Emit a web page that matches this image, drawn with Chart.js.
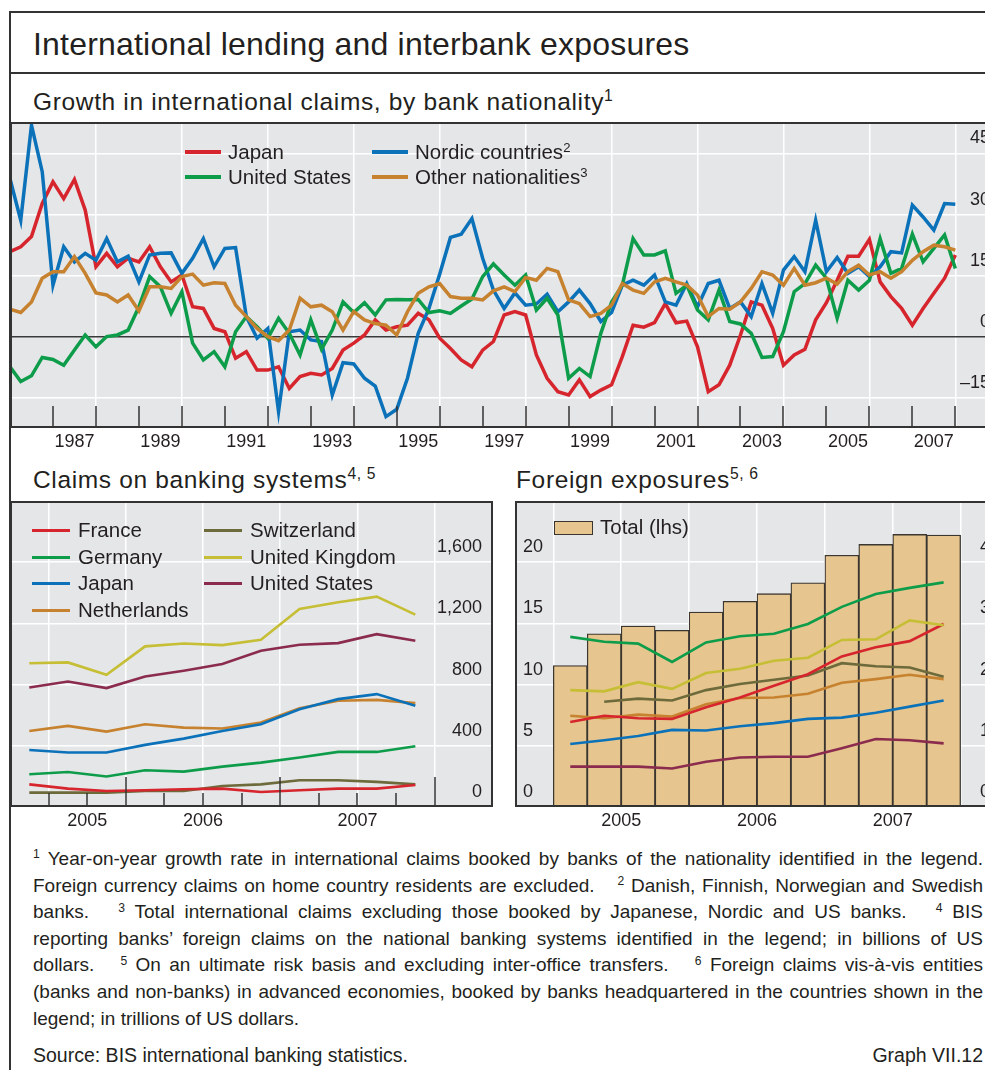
<!DOCTYPE html>
<html>
<head>
<meta charset="utf-8">
<script src="https://cdn.jsdelivr.net/npm/chart.js@4.4.1/dist/chart.umd.min.js"></script>
<style>
  html, body { margin: 0; padding: 0; background: #fff; }
  body {
    width: 985px; height: 1070px; overflow: hidden; position: relative;
    font-family: "Liberation Sans", Arial, Helvetica, sans-serif; color: #231f20;
  }
  canvas { position: absolute; z-index: 1; }
  .rule { position: absolute; background: #333; z-index: 5; }
  .txt { position: absolute; white-space: nowrap; z-index: 3; }
  .title { left: 33px; top: 26px; font-size: 32px; line-height: 36px; letter-spacing: 0.2px; }
  .sub { font-size: 24.5px; line-height: 28px; letter-spacing: 0.65px; }
  sup { font-size: 0.64em; vertical-align: 0; position: relative; top: -0.55em; line-height: 0; }
  .leg { position: absolute; z-index: 3; font-size: 20.5px; line-height: 24px; white-space: nowrap; }
  .sw { position: absolute; z-index: 3; }
  .note { position: absolute; left: 33px; width: 950px; font-size: 19px; line-height: 26.6px; z-index: 3; }
  .note div { text-align: justify; text-align-last: justify; white-space: nowrap; }
  .note div.last { text-align-last: left; }
</style>
</head>
<body>
<div class="rule" style="left:9px; top:11px; width:2px; height:1060px;"></div>
<div class="rule" style="left:9px; top:11px; width:980px; height:2px;"></div>
<div class="rule" style="left:9px; top:72px; width:980px; height:2px;"></div>

<div class="txt title">International lending and interbank exposures</div>
<div class="txt sub" style="left:33px; top:88px;">Growth in international claims, by bank nationality<sup>1</sup></div>
<div class="txt sub" style="left:33px; top:466px;">Claims on banking systems<sup>4, 5</sup></div>
<div class="txt sub" style="left:516px; top:466px;">Foreign exposures<sup>5, 6</sup></div>

<canvas id="growth" width="980" height="336" style="left:10px; top:122px; width:980px; height:336px;"></canvas>
<canvas id="banks" width="483" height="336" style="left:10px; top:501px; width:483px; height:336px;"></canvas>
<canvas id="expo" width="485" height="336" style="left:515px; top:501px; width:485px; height:336px;"></canvas>

<div id="legend-growth"></div>
<div id="legend-banks"></div>
<div id="legend-expo"></div>

<div class="note" style="top:846px;">
  <div><sup>1</sup> Year-on-year growth rate in international claims booked by banks of the nationality identified in the legend.</div>
  <div>Foreign currency claims on home country residents are excluded. &ensp; <sup>2</sup> Danish, Finnish, Norwegian and Swedish</div>
  <div>banks. &ensp; <sup>3</sup> Total international claims excluding those booked by Japanese, Nordic and US banks. &ensp; <sup>4</sup> BIS</div>
  <div>reporting banks’ foreign claims on the national banking systems identified in the legend; in billions of US</div>
  <div>dollars. &ensp; <sup>5</sup> On an ultimate risk basis and excluding inter-office transfers. &ensp; <sup>6</sup> Foreign claims vis-à-vis entities</div>
  <div>(banks and non-banks) in advanced economies, booked by banks headquartered in the countries shown in the</div>
  <div class="last">legend; in trillions of US dollars.</div>
</div>
<div class="txt" style="left:33px; top:1042px; font-size:19.5px; line-height:26px;">Source: BIS international banking statistics.</div>
<div class="txt" style="right:2px; top:1042px; font-size:19.5px; line-height:26px;">Graph VII.12</div>

<script>
Chart.defaults.font.family = "'Liberation Sans', Arial, Helvetica, sans-serif";
Chart.defaults.font.size = 18;
Chart.defaults.color = "#231f20";
Chart.defaults.animation = false;

const PLOT_BG = "#e5e6e8";
const FRAME = "#333333";

// ---- Growth in international claims, quarterly, % year on year ----
const growthFirstYear = 1986; // first observation sits on the left edge
const growthYearLabels = ["1987", "1989", "1991", "1993", "1995", "1997", "1999", "2001", "2003", "2005", "2007"];
const growthTicks = [-15, 0, 15, 30, 45];

const japanGrowth = [
  20.9, 22.1, 24.6, 32.7, 38.0, 33.9, 38.6, 31.1, 17.2, 20.5,
  17.2, 19.3, 18.4, 22.1, 17.2, 13.5, 15.2, 7.4, 7.0, 2.1,
  1.3, -5.2, -3.6, -8.1, -8.1, -7.3, -12.6, -9.7, -8.9, -9.3,
  -7.7, -3.2, -1.5, 0.5, 4.2, 1.7, 2.5, 2.9, 5.8, 4.2,
  -0.3, -2.8, -5.6, -7.3, -3.2, -1.1, 5.4, 6.2, 5.4, -4.4,
  -10.1, -13.4, -14.2, -10.5, -14.6, -13.0, -11.7, -4.8, 2.9, 2.4,
  3.5, 8.2, 3.5, 3.9, -2.4, -13.4, -11.7, -6.9, 0.5, 8.6,
  7.8, 2.1, -6.9, -4.4, -3.0, 4.2, 8.4, 13.9, 19.8, 19.8,
  23.9, 13.5, 9.9, 7.0, 2.9, 7.0, 10.7, 14.4, 20.1
];
const usGrowth = [
  -7.3, -10.9, -9.5, -5.0, -5.5, -6.9, -3.2, 0.5, -2.4, 0.1,
  0.5, 1.7, 7.4, 14.8, 12.3, 5.8, 11.1, -1.5, -5.6, -3.6,
  -7.3, 1.3, 5.0, 2.5, -0.3, 4.6, 0.9, -4.4, 4.2, -3.0,
  1.7, 8.6, 6.0, 8.4, 5.4, 9.1, 9.2, 9.1, 9.2, 6.0,
  6.4, 5.8, 7.6, 9.3, 14.8, 17.9, 15.2, 12.7, 15.2, 6.6,
  9.5, 5.4, -10.1, -7.7, -9.7, 0.9, 8.6, 12.7, 24.1, 20.1,
  20.1, 21.1, 10.7, 12.7, 6.6, 4.2, 11.5, 3.8, 3.2, 0.9,
  -5.0, -4.8, 1.3, 11.1, 13.1, 17.6, 14.4, 4.6, 13.9, 11.5,
  13.9, 24.1, 15.6, 16.8, 25.2, 18.4, 21.7, 25.0, 16.8
];
const nordicGrowth = [
  38.8, 28.6, 51.9, 40.5, 12.7, 22.1, 18.4, 20.5, 18.8, 24.1,
  18.4, 19.8, 13.5, 20.1, 20.5, 20.6, 15.6, 19.3, 24.1, 17.2,
  21.7, 21.9, 5.0, -0.3, 2.1, -18.3, 1.3, 1.7, -0.7, -1.1,
  -14.2, -6.3, -6.6, -10.1, -12.0, -19.5, -17.7, -10.1, 0.9, 7.0,
  15.4, 24.4, 25.2, 29.0, 19.3, 11.5, 7.0, 10.8, 7.8, 8.1,
  10.5, 6.2, 8.6, 11.5, 8.2, 3.8, 6.0, 12.7, 13.9, 12.7,
  15.2, 8.6, 7.8, 13.1, 7.4, 13.1, 13.9, 7.0, 8.6, 5.0,
  13.1, 5.8, 16.4, 19.7, 16.0, 28.6, 16.0, 19.5, 15.6, 17.2,
  14.8, 17.2, 20.9, 20.6, 32.3, 29.4, 26.2, 32.7, 32.5
];
const otherGrowth = [
  6.8, 6.0, 8.6, 14.4, 16.0, 16.0, 19.7, 15.6, 10.8, 10.3,
  8.6, 10.3, 6.4, 12.3, 12.3, 11.9, 14.8, 15.4, 12.7, 13.3,
  13.1, 7.8, 5.0, 2.1, 0.1, -0.9, 1.7, 9.5, 7.4, 7.8,
  6.2, 1.7, 6.2, 4.2, 3.3, 2.9, 0.5, 6.2, 10.7, 12.3,
  13.1, 9.9, 9.5, 9.5, 9.1, 11.3, 12.3, 11.1, 14.6, 13.9,
  16.8, 16.0, 9.1, 8.2, 5.0, 5.8, 7.8, 13.1, 11.5, 10.7,
  13.5, 14.4, 13.5, 12.7, 10.3, 5.0, 7.0, 6.8, 8.6, 11.9,
  16.0, 15.2, 12.7, 16.8, 12.7, 13.3, 14.4, 13.0, 16.0, 17.6,
  15.2, 16.0, 14.4, 16.0, 18.8, 20.9, 22.5, 22.1, 21.3
];

// ---- Claims on banking systems, USD bn ----
const bankQuarters = ["2005Q2", "2005Q3", "2005Q4", "2006Q1", "2006Q2", "2006Q3", "2006Q4", "2007Q1", "2007Q2", "2007Q3", "2007Q4"];
const bankYearLabels = ["2005", "2006", "2007"];
const bankTicks = [0, 400, 800, 1200, 1600];
const franceClaims = [148, 120, 105, 109, 116, 120, 98, 109, 120, 120, 144];
const germanyClaims = [214, 229, 199, 240, 231, 264, 290, 323, 360, 360, 397];
const japanClaims = [373, 356, 356, 406, 447, 497, 541, 639, 705, 738, 661];
const netherlandsClaims = [497, 530, 493, 541, 519, 513, 552, 646, 694, 700, 679];
const switzerlandClaims = [94, 94, 94, 105, 105, 137, 148, 175, 175, 164, 148];
const ukClaims = [940, 945, 864, 1050, 1069, 1058, 1093, 1294, 1338, 1375, 1257];
const usClaims = [781, 820, 777, 853, 891, 934, 1021, 1060, 1071, 1130, 1087];

// ---- Foreign exposures, USD trn ----
const expoQuarters = ["2005Q1", "2005Q2", "2005Q3", "2005Q4", "2006Q1", "2006Q2", "2006Q3", "2006Q4", "2007Q1", "2007Q2", "2007Q3", "2007Q4"];
const expoYearLabels = ["2005", "2006", "2007"];
const expoLeftTicks = [0, 5, 10, 15, 20];
const expoRightTicks = [0, 1, 2, 3, 4];
const totalExpo = [11.56, 14.15, 14.78, 14.43, 15.93, 16.80, 17.43, 18.31, 20.57, 21.45, 22.27, 22.21];
const germanyExpo = [2.78, 2.70, 2.67, 2.37, 2.69, 2.79, 2.83, 2.99, 3.27, 3.48, 3.58, 3.67];
const ukExpo = [1.91, 1.89, 2.04, 1.93, 2.19, 2.26, 2.39, 2.44, 2.73, 2.74, 3.05, 2.97];
const franceExpo = [1.39, 1.49, 1.45, 1.44, 1.63, 1.79, 1.98, 2.17, 2.46, 2.61, 2.71, 2.99];
const netherlandsExpo = [1.49, 1.45, 1.51, 1.48, 1.68, 1.78, 1.79, 1.85, 2.03, 2.09, 2.16, 2.09];
const switzerlandExpo = [null, 1.72, 1.77, 1.74, 1.91, 2.01, 2.08, 2.15, 2.35, 2.30, 2.28, 2.13];
const japanExpo = [1.03, 1.09, 1.16, 1.26, 1.25, 1.32, 1.37, 1.44, 1.46, 1.54, 1.64, 1.74];
const usExpo = [0.66, 0.66, 0.66, 0.63, 0.74, 0.81, 0.82, 0.82, 0.96, 1.11, 1.09, 1.04];

const COLORS = {
  red: "#d6252d",
  green: "#0d9d4a",
  blue: "#0b72ba",
  orange: "#c7822f",
  olive: "#6d6a3b",
  yellow: "#c6bf35",
  maroon: "#8b2c4e",
  tan: "#e6c58e",
};

// quarter label -> middle of the quarter on a year axis
const quarterMid = (label) => {
  const [y, q] = label.split("Q");
  return Number(y) + (Number(q) - 1) / 4 + 0.125;
};

const zeroPad = (scale) => {
  scale.paddingLeft = 0;
  scale.paddingRight = 0;
  scale.paddingTop = 0;
  scale.paddingBottom = 0;
};

const fixedTicks = (values) => (scale) => {
  scale.ticks = values.map((value) => ({ value }));
};

const stepTicks = (from, to, step) => (scale) => {
  const ticks = [];
  for (let v = from; v <= to + 1e-9; v += step) ticks.push({ value: Math.round(v * 1000) / 1000 });
  scale.ticks = ticks;
};

const plotFrame = {
  id: "plotFrame",
  beforeDraw(chart) {
    const { ctx, chartArea: a } = chart;
    ctx.save();
    ctx.fillStyle = PLOT_BG;
    ctx.fillRect(a.left, a.top, a.width, a.height);
    ctx.restore();
  },
  afterDraw(chart) {
    const { ctx, chartArea: a } = chart;
    ctx.save();
    ctx.strokeStyle = FRAME;
    ctx.lineWidth = 2;
    ctx.strokeRect(a.left + 1, a.top + 1, a.width - 2, a.height - 2);
    ctx.restore();
  },
};

// short tick marks standing up from the bottom axis
const innerTicks = (from, to, step, lengthOf) => ({
  id: "innerTicks",
  afterDatasetsDraw(chart) {
    const { ctx, chartArea: a, scales } = chart;
    ctx.save();
    ctx.strokeStyle = FRAME;
    ctx.lineWidth = 1.5;
    for (let v = from; v <= to + 1e-9; v += step) {
      const x = Math.round(scales.x.getPixelForValue(v));
      ctx.beginPath();
      ctx.moveTo(x, a.bottom);
      ctx.lineTo(x, a.bottom - lengthOf(v));
      ctx.stroke();
    }
    ctx.restore();
  },
});

const lineSet = (label, xs, values, color, width, axis) => ({
  type: "line",
  label,
  data: values.map((y, i) => ({ x: xs[i], y })),
  borderColor: color,
  borderWidth: width,
  pointRadius: 0,
  tension: 0,
  spanGaps: false,
  yAxisID: axis || "y",
  order: 0,
});

const baseOptions = () => ({
  responsive: false,
  maintainAspectRatio: false,
  layout: { padding: 0 },
  plugins: { legend: { display: false }, tooltip: { enabled: false } },
});

const dash = (v) => String(v).replace("-", "\u2013");

// ---------- top chart ----------
const growthX = japanGrowth.map((_, i) => growthFirstYear + i / 4);

new Chart(document.getElementById("growth"), {
  type: "line",
  data: {
    datasets: [
      lineSet("Other nationalities", growthX, otherGrowth, COLORS.orange, 3.5),
      lineSet("United States", growthX, usGrowth, COLORS.green, 3.5),
      lineSet("Nordic countries", growthX, nordicGrowth, COLORS.blue, 3.5),
      lineSet("Japan", growthX, japanGrowth, COLORS.red, 3.5),
    ],
  },
  options: {
    ...baseOptions(),
    scales: {
      x: {
        type: "linear",
        min: 1986,
        max: 2008.807,
        afterBuildTicks: stepTicks(1986, 2008.5, 0.5),
        ticks: {
          autoSkip: false,
          maxRotation: 0,
          padding: 3,
          callback: (v) => {
            const yr = String(Math.floor(v));
            return v % 1 === 0.5 && growthYearLabels.includes(yr) ? yr : "";
          },
        },
        grid: {
          drawTicks: false,
          lineWidth: 1.5,
          color: (c) => (c.tick && c.tick.value % 2 === 0 ? "#ffffff" : "rgba(0,0,0,0)"),
        },
        border: { display: false },
        afterFit: (s) => {
          s.height = 30;
          zeroPad(s);
        },
      },
      y: {
        position: "right",
        min: -22.29,
        max: 52.67,
        afterBuildTicks: fixedTicks(growthTicks),
        ticks: { mirror: true, padding: 0, labelOffset: -15, callback: dash },
        grid: {
          drawTicks: false,
          lineWidth: 1.5,
          color: (c) => (c.tick && c.tick.value === 0 ? "#3a3a3a" : "#ffffff"),
        },
        border: { display: false },
        afterFit: (s) => {
          s.width = 0;
          zeroPad(s);
        },
      },
    },
  },
  plugins: [plotFrame, innerTicks(1987, 2008, 1, () => 22)],
});

// ---------- claims on banking systems ----------
const bankX = bankQuarters.map(quarterMid);
const bankLabelAt = { 2005.75: bankYearLabels[0], 2006.5: bankYearLabels[1], 2007.5: bankYearLabels[2] };

new Chart(document.getElementById("banks"), {
  type: "line",
  data: {
    datasets: [
      lineSet("France", bankX, franceClaims, COLORS.red, 2.6),
      lineSet("Switzerland", bankX, switzerlandClaims, COLORS.olive, 2.6),
      lineSet("Germany", bankX, germanyClaims, COLORS.green, 2.6),
      lineSet("Japan", bankX, japanClaims, COLORS.blue, 2.6),
      lineSet("Netherlands", bankX, netherlandsClaims, COLORS.orange, 2.6),
      lineSet("United States", bankX, usClaims, COLORS.maroon, 2.6),
      lineSet("United Kingdom", bankX, ukClaims, COLORS.yellow, 2.6),
    ],
  },
  options: {
    ...baseOptions(),
    scales: {
      x: {
        type: "linear",
        min: 2005.25,
        max: 2008.378,
        afterBuildTicks: stepTicks(2005.5, 2008, 0.25),
        ticks: {
          autoSkip: false,
          maxRotation: 0,
          padding: 3,
          callback: (v) => bankLabelAt[v] || "",
        },
        grid: {
          drawTicks: false,
          lineWidth: 1.5,
          color: (c) => (c.tick && (c.tick.value * 2) % 1 === 0 ? "#ffffff" : "rgba(0,0,0,0)"),
        },
        border: { display: false },
        afterFit: (s) => {
          s.height = 30;
          zeroPad(s);
        },
      },
      y: {
        position: "right",
        min: 0,
        max: 2000,
        afterBuildTicks: fixedTicks(bankTicks),
        ticks: {
          mirror: true,
          padding: -11,
          labelOffset: -15,
          callback: (v) => v.toLocaleString("en-US"),
        },
        grid: { drawTicks: false, lineWidth: 1.5, color: "#ffffff" },
        border: { display: false },
        afterFit: (s) => {
          s.width = 0;
          zeroPad(s);
        },
      },
    },
  },
  plugins: [plotFrame, innerTicks(2005.5, 2008, 0.25, (v) => (v % 1 === 0 ? 30 : 14))],
});

// ---------- foreign exposures ----------
const expoX = expoQuarters.map(quarterMid);
const expoLabelAt = { 2005.5: expoYearLabels[0], 2006.5: expoYearLabels[1], 2007.5: expoYearLabels[2] };

new Chart(document.getElementById("expo"), {
  data: {
    datasets: [
      lineSet("Germany", expoX, germanyExpo, COLORS.green, 2.6, "y2"),
      lineSet("United Kingdom", expoX, ukExpo, COLORS.yellow, 2.6, "y2"),
      lineSet("France", expoX, franceExpo, COLORS.red, 2.6, "y2"),
      lineSet("Switzerland", expoX, switzerlandExpo, COLORS.olive, 2.6, "y2"),
      lineSet("Netherlands", expoX, netherlandsExpo, COLORS.orange, 2.6, "y2"),
      lineSet("Japan", expoX, japanExpo, COLORS.blue, 2.6, "y2"),
      lineSet("United States", expoX, usExpo, COLORS.maroon, 2.6, "y2"),
      {
        type: "bar",
        label: "Total (lhs)",
        data: totalExpo.map((y, i) => ({ x: expoX[i], y })),
        backgroundColor: COLORS.tan,
        borderColor: "#3b3630",
        borderWidth: 1.3,
        barPercentage: 1,
        categoryPercentage: 1,
        yAxisID: "y",
        order: 1,
      },
    ],
  },
  options: {
    ...baseOptions(),
    scales: {
      x: {
        type: "linear",
        offset: false,
        min: 2004.718,
        max: 2008.29,
        afterBuildTicks: stepTicks(2005, 2008, 0.5),
        ticks: {
          autoSkip: false,
          maxRotation: 0,
          padding: 3,
          callback: (v) => expoLabelAt[v] || "",
        },
        grid: { offset: false, drawTicks: false, lineWidth: 1.5, color: "#ffffff" },
        border: { display: false },
        afterFit: (s) => {
          s.height = 30;
          zeroPad(s);
        },
      },
      y: {
        position: "left",
        min: 0,
        max: 25,
        afterBuildTicks: fixedTicks(expoLeftTicks),
        ticks: { mirror: true, padding: 8, labelOffset: -15 },
        grid: { drawTicks: false, lineWidth: 1.5, color: "#ffffff" },
        border: { display: false },
        afterFit: (s) => {
          s.width = 0;
          zeroPad(s);
        },
      },
      y2: {
        position: "right",
        min: 0,
        max: 5,
        afterBuildTicks: fixedTicks(expoRightTicks),
        ticks: { mirror: true, padding: -10, labelOffset: -15 },
        grid: { display: false, drawTicks: false },
        border: { display: false },
        afterFit: (s) => {
          s.width = 0;
          zeroPad(s);
        },
      },
    },
  },
  plugins: [plotFrame],
});

// ---------- legends (html) ----------
const growthLegend = [
  { text: "Japan", color: COLORS.red, x: 185, y: 152 },
  { text: "United States", color: COLORS.green, x: 185, y: 177 },
  { text: "Nordic countries<sup>2</sup>", color: COLORS.blue, x: 372, y: 152 },
  { text: "Other nationalities<sup>3</sup>", color: COLORS.orange, x: 372, y: 177 },
];
const bankLegend = [
  { text: "France", color: COLORS.red, x: 32, y: 530 },
  { text: "Germany", color: COLORS.green, x: 32, y: 557 },
  { text: "Japan", color: COLORS.blue, x: 32, y: 583 },
  { text: "Netherlands", color: COLORS.orange, x: 32, y: 610 },
  { text: "Switzerland", color: COLORS.olive, x: 204, y: 530 },
  { text: "United Kingdom", color: COLORS.yellow, x: 204, y: 557 },
  { text: "United States", color: COLORS.maroon, x: 204, y: 583 },
];

const addLegend = (holder, items, lineLen, lineH, gap) => {
  const box = document.getElementById(holder);
  items.forEach((it) => {
    const sw = document.createElement("div");
    sw.className = "sw";
    sw.style.cssText = `left:${it.x}px; top:${it.y - lineH / 2}px; width:${lineLen}px; height:${lineH}px; background:${it.color};`;
    box.appendChild(sw);
    const t = document.createElement("div");
    t.className = "leg";
    t.style.cssText = `left:${it.x + lineLen + gap}px; top:${it.y - 12}px;`;
    t.innerHTML = it.text;
    box.appendChild(t);
  });
};

addLegend("legend-growth", growthLegend, 36, 4, 7);
addLegend("legend-banks", bankLegend, 38, 3, 8);

const expoBox = document.getElementById("legend-expo");
expoBox.innerHTML =
  `<div class="sw" style="left:554px; top:521px; width:37px; height:12px; background:${COLORS.tan}; border:1px solid #3b3630;"></div>` +
  `<div class="leg" style="left:600px; top:515px;">Total (lhs)</div>`;
</script>
</body>
</html>
